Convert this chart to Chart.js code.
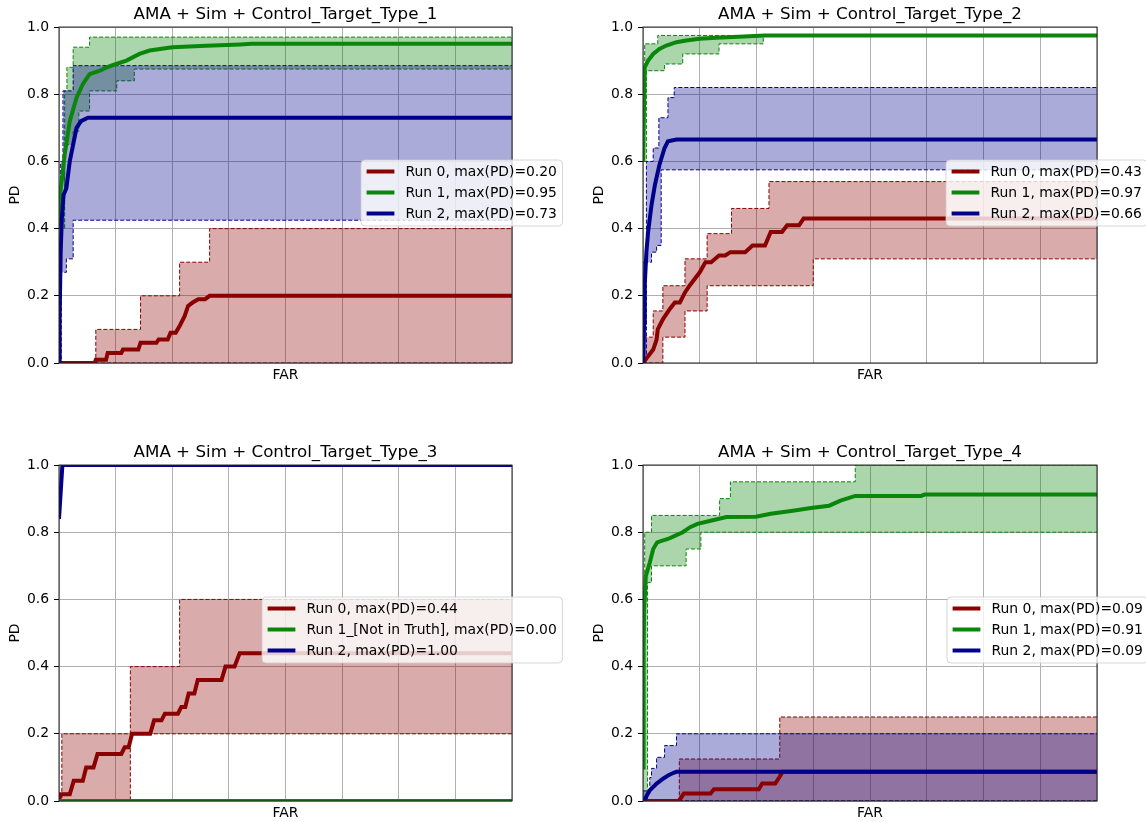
<!DOCTYPE html>
<html lang="en">
  <head>
    <meta charset="UTF-8" />
    <title>PD vs FAR</title>
    <script src="https://cdn.jsdelivr.net/npm/chart.js"></script>
    <style>
      body { margin: 0; background: #fff; }
      .wrap { position: relative; width: 1146px; height: 822px; overflow: hidden; }
      canvas { position: absolute; }
    </style>
  </head>
  <body>
    <div class="wrap">
      <canvas id="c1" width="573" height="411" style="left:0;top:0"></canvas>
      <canvas id="c2" width="573" height="411" style="left:573px;top:0"></canvas>
      <canvas id="c3" width="573" height="411" style="left:0;top:411px"></canvas>
      <canvas id="c4" width="573" height="411" style="left:573px;top:411px"></canvas>
    </div>

    <script>
      // ---- data: [FAR (grid units), PD] pairs ----

      // Control_Target_Type_1
      const type1Labels = ["Run 0, max(PD)=0.20", "Run 1, max(PD)=0.95", "Run 2, max(PD)=0.73"];
      const type1Run0 = [[0,0],[0.63,0],[0.65,0.01],[0.83,0.01],[0.86,0.03],[1.10,0.03],[1.13,0.04],[1.40,0.04],[1.44,0.06],[1.72,0.06],[1.76,0.07],[1.92,0.07],[1.97,0.09],[2.06,0.09],[2.13,0.11],[2.22,0.14],[2.28,0.17],[2.36,0.18],[2.46,0.19],[2.58,0.19],[2.66,0.20],[8,0.20]];
      const type1Run0Hi = [[0,0],[0.65,0.10],[1.44,0.20],[2.13,0.30],[2.66,0.40],[8,0.40]];
      const type1Run0Lo = [[0,0],[8,0]];
      const type1Run1 = [[0,0.40],[0.02,0.50],[0.06,0.56],[0.10,0.62],[0.19,0.72],[0.31,0.79],[0.42,0.83],[0.54,0.86],[0.72,0.87],[0.84,0.88],[1.01,0.89],[1.19,0.90],[1.42,0.92],[1.60,0.93],[2.00,0.94],[2.60,0.944],[3.20,0.948],[3.40,0.95],[8,0.95]];
      const type1Run1Hi = [[0,0.50],[0.10,0.81],[0.14,0.88],[0.25,0.94],[0.54,0.97],[8,0.97]];
      const type1Run1Lo = [[0,0.40],[0.10,0.65],[0.25,0.69],[0.35,0.75],[0.54,0.81],[1.02,0.84],[1.33,0.875],[8,0.875]];
      const type1Run2 = [[0,0],[0.01,0.13],[0.03,0.33],[0.05,0.43],[0.08,0.50],[0.13,0.52],[0.19,0.60],[0.25,0.65],[0.31,0.70],[0.39,0.72],[0.51,0.73],[8,0.73]];
      const type1Run2Hi = [[0,0.30],[0.03,0.60],[0.07,0.81],[0.25,0.885],[8,0.885]];
      const type1Run2Lo = [[0,0],[0.04,0.27],[0.13,0.31],[0.25,0.425],[8,0.425]];

      // Control_Target_Type_2
      const type2Labels = ["Run 0, max(PD)=0.43", "Run 1, max(PD)=0.97", "Run 2, max(PD)=0.66"];
      const type2Run0 = [[0,0],[0.09,0.02],[0.18,0.04],[0.24,0.07],[0.26,0.10],[0.35,0.13],[0.47,0.16],[0.56,0.18],[0.65,0.18],[0.74,0.21],[0.82,0.23],[0.91,0.25],[1.00,0.27],[1.10,0.30],[1.20,0.30],[1.34,0.32],[1.45,0.32],[1.54,0.33],[1.80,0.33],[1.93,0.35],[2.15,0.35],[2.25,0.39],[2.45,0.39],[2.54,0.41],[2.75,0.41],[2.83,0.43],[8,0.43]];
      const type2Run0Hi = [[0,0.077],[0.18,0.155],[0.35,0.23],[0.74,0.31],[1.13,0.385],[1.56,0.46],[2.22,0.54],[8,0.54]];
      const type2Run0Lo = [[0,0],[0.35,0.077],[0.74,0.155],[1.13,0.23],[3.00,0.31],[8,0.31]];
      const type2Run1 = [[0,0.60],[0.03,0.88],[0.09,0.90],[0.18,0.92],[0.29,0.935],[0.41,0.945],[0.59,0.955],[0.76,0.96],[1.00,0.965],[1.29,0.968],[1.59,0.97],[2.15,0.975],[8,0.975]];
      const type2Run1Hi = [[0,0.85],[0.03,0.95],[0.26,0.975],[8,0.975]];
      const type2Run1Lo = [[0,0.60],[0.06,0.87],[0.38,0.89],[0.70,0.92],[1.34,0.95],[2.12,0.975],[8,0.975]];
      const type2Run2 = [[0,0],[0.02,0.12],[0.03,0.23],[0.06,0.33],[0.09,0.39],[0.15,0.47],[0.21,0.53],[0.29,0.59],[0.38,0.64],[0.44,0.66],[0.59,0.665],[8,0.665]];
      const type2Run2Hi = [[0,0.30],[0.06,0.60],[0.18,0.64],[0.28,0.73],[0.44,0.79],[0.55,0.82],[8,0.82]];
      const type2Run2Lo = [[0,0],[0.06,0.30],[0.15,0.33],[0.24,0.35],[0.32,0.575],[8,0.575]];

      // Control_Target_Type_3
      const type3Labels = ["Run 0, max(PD)=0.44", "Run 1_[Not in Truth], max(PD)=0.00", "Run 2, max(PD)=1.00"];
      const type3Run0 = [[0,0],[0.03,0.02],[0.19,0.02],[0.26,0.06],[0.42,0.06],[0.48,0.10],[0.61,0.10],[0.68,0.14],[1.10,0.14],[1.16,0.16],[1.23,0.16],[1.29,0.20],[1.61,0.20],[1.68,0.24],[1.81,0.24],[1.87,0.26],[2.10,0.26],[2.16,0.28],[2.23,0.28],[2.29,0.32],[2.39,0.32],[2.45,0.36],[2.87,0.36],[2.94,0.40],[3.10,0.40],[3.19,0.44],[8,0.44]];
      const type3Run0Hi = [[0,0],[0.05,0.20],[1.26,0.40],[2.13,0.60],[8,0.60]];
      const type3Run0Lo = [[0,0],[1.26,0.20],[8,0.20]];
      const type3Run1 = [[0,0],[8,0]];
      const type3Run2 = [[0,0.84],[0.06,1.0],[8,1.0]];

      // Control_Target_Type_4
      const type4Labels = ["Run 0, max(PD)=0.09", "Run 1, max(PD)=0.91", "Run 2, max(PD)=0.09"];
      const type4Run0 = [[0,0],[0.63,0],[0.72,0.022],[1.19,0.022],[1.25,0.035],[2.04,0.035],[2.10,0.052],[2.33,0.052],[2.40,0.07],[2.46,0.087],[8,0.087]];
      const type4Run0Hi = [[0,0],[0.64,0.125],[2.41,0.25],[8,0.25]];
      const type4Run0Lo = [[0,0],[8,0]];
      const type4Run1 = [[0,0.10],[0.01,0.45],[0.02,0.57],[0.05,0.67],[0.12,0.71],[0.18,0.75],[0.25,0.77],[0.34,0.775],[0.44,0.78],[0.57,0.79],[0.70,0.80],[0.83,0.815],[0.96,0.825],[1.21,0.835],[1.47,0.845],[1.99,0.846],[2.25,0.855],[2.64,0.864],[2.96,0.872],[3.28,0.879],[3.48,0.894],[3.74,0.908],[4.90,0.908],[4.96,0.912],[8,0.912]];
      const type4Run1Hi = [[0,0.20],[0.03,0.80],[0.15,0.85],[1.35,0.90],[1.54,0.95],[3.74,1.0],[8,1.0]];
      const type4Run1Lo = [[0,0],[0.08,0.65],[0.15,0.70],[0.76,0.75],[1.02,0.80],[8,0.80]];
      const type4Run2 = [[0,0],[0.03,0.005],[0.12,0.032],[0.24,0.052],[0.36,0.067],[0.45,0.077],[0.54,0.084],[0.59,0.087],[8,0.087]];
      const type4Run2Hi = [[0,0.03],[0.12,0.07],[0.15,0.097],[0.24,0.13],[0.38,0.165],[0.59,0.20],[8,0.20]];
      const type4Run2Lo = [[0,0],[8,0]];

      const yTicks = [0, 0.2, 0.4, 0.6, 0.8, 1.0];

      // ---- styling ----
      const RED = "#8b0000", GREEN = "#0a870a", BLUE = "#00008b";
      const RED_FILL = "rgba(139,0,0,0.33)", GREEN_FILL = "rgba(0,128,0,0.33)", BLUE_FILL = "rgba(0,0,139,0.33)";
      const FONT = "'DejaVu Sans', sans-serif";

      Chart.defaults.font.family = FONT;
      Chart.defaults.color = "#000";

      const pts = (arr) => arr.map(([x, y]) => ({ x, y }));

      // lower "order" is drawn on top: all lines sit above all shaded bands
      function lineSet(label, data, color, run) {
        return {
          label, data: pts(data), borderColor: color, borderWidth: 4,
          pointRadius: 0, fill: false, tension: 0, order: 10 - run,
        };
      }

      function bandSets(hi, lo, color, fillColor, run) {
        const common = { borderColor: color, borderWidth: 1, borderDash: [4, 2], pointRadius: 0, stepped: true, order: 20 - run };
        return [
          Object.assign({ data: pts(hi), backgroundColor: fillColor, fill: "+1" }, common),
          Object.assign({ data: pts(lo), fill: false }, common),
        ];
      }

      // legend box drawn inside/over the axes like the original
      const boxLegend = {
        id: "boxLegend",
        afterDraw(chart, args, opts) {
          const ctx = chart.ctx;
          const items = chart.data.datasets.filter((d) => d.label);
          const fs = 13.9, rowH = 21, pad = 5.6, hl = 27.8, gap = 11.1;
          ctx.save();
          ctx.font = fs + "px " + FONT;
          const tw = Math.max(...items.map((d) => ctx.measureText(d.label).width));
          const w = pad * 2 + hl + gap + tw;
          const h = 11.5 + rowH * (items.length - 1) + 12.5;
          const x = opts.x, y = opts.y;
          ctx.beginPath();
          ctx.roundRect(x, y, w, h, 4);
          ctx.fillStyle = "rgba(255,255,255,0.8)";
          ctx.fill();
          ctx.strokeStyle = "rgba(204,204,204,0.8)";
          ctx.lineWidth = 1;
          ctx.stroke();
          ctx.textBaseline = "middle";
          ctx.fillStyle = "#000";
          items.forEach((d, i) => {
            const cy = y + 11.5 + i * rowH;
            ctx.beginPath();
            ctx.moveTo(x + pad, cy);
            ctx.lineTo(x + pad + hl, cy);
            ctx.strokeStyle = d.borderColor;
            ctx.lineWidth = 4;
            ctx.stroke();
            ctx.fillText(d.label, x + pad + hl + gap, cy + 1);
          });
          ctx.restore();
        },
      };

      // four spines around the plot area
      const spines = {
        id: "spines",
        afterDatasetsDraw(chart) {
          const { ctx, chartArea: a } = chart;
          ctx.save();
          ctx.strokeStyle = "#222";
          ctx.lineWidth = 1;
          ctx.strokeRect(a.left, a.top, a.right - a.left, a.bottom - a.top);
          ctx.restore();
        },
      };

      function makeChart(id, title, padding, legendPos, datasets) {
        return new Chart(document.getElementById(id), {
          type: "line",
          data: { datasets },
          options: {
            responsive: false,
            animation: false,
            devicePixelRatio: 1,
            layout: { padding },
            plugins: {
              legend: { display: false },
              tooltip: { enabled: false },
              title: {
                display: true, text: title, fullSize: false,
                font: { size: 16.7, weight: "normal" }, color: "#000",
                padding: { top: 5, bottom: 2 },
              },
              boxLegend: legendPos,
            },
            scales: {
              x: {
                type: "linear", min: 0, max: 8,
                ticks: { display: false, stepSize: 1 },
                grid: { color: "#b0b0b0", lineWidth: 1, drawTicks: false },
                border: { display: false },
                title: { display: true, text: "FAR", font: { size: 13.9 }, padding: { top: 0, bottom: 0.7 } },
                afterFit: (s) => { s.height = 21; },
              },
              y: {
                min: 0, max: 1,
                afterBuildTicks: (s) => { s.ticks = yTicks.map((v) => ({ value: v })); },
                ticks: { font: { size: 13.9 }, padding: 5, callback: (v) => v.toFixed(1) },
                grid: { color: "#b0b0b0", lineWidth: 1, tickColor: "#000", tickLength: 5, tickWidth: 1 },
                border: { display: false },
                title: { display: true, text: "PD", font: { size: 13.9 }, padding: { top: 6.7, bottom: 0 } },
                afterFit: (s) => { s.width = 59; },
              },
            },
          },
          plugins: [spines, boxLegend],
        });
      }

      makeChart("c1", "AMA + Sim + Control_Target_Type_1",
        { left: 0, right: 61, top: 0, bottom: 27 }, { x: 361, y: 160 }, [
          lineSet(type1Labels[0], type1Run0, RED, 0),
          ...bandSets(type1Run0Hi, type1Run0Lo, RED, RED_FILL, 0),
          lineSet(type1Labels[1], type1Run1, GREEN, 1),
          ...bandSets(type1Run1Hi, type1Run1Lo, GREEN, GREEN_FILL, 1),
          lineSet(type1Labels[2], type1Run2, BLUE, 2),
          ...bandSets(type1Run2Hi, type1Run2Lo, BLUE, BLUE_FILL, 2),
        ]);

      makeChart("c2", "AMA + Sim + Control_Target_Type_2",
        { left: 11, right: 49, top: 0, bottom: 27 }, { x: 373, y: 160 }, [
          lineSet(type2Labels[0], type2Run0, RED, 0),
          ...bandSets(type2Run0Hi, type2Run0Lo, RED, RED_FILL, 0),
          lineSet(type2Labels[1], type2Run1, GREEN, 1),
          ...bandSets(type2Run1Hi, type2Run1Lo, GREEN, GREEN_FILL, 1),
          lineSet(type2Labels[2], type2Run2, BLUE, 2),
          ...bandSets(type2Run2Hi, type2Run2Lo, BLUE, BLUE_FILL, 2),
        ]);

      makeChart("c3", "AMA + Sim + Control_Target_Type_3",
        { left: 0, right: 61, top: 27, bottom: 0 }, { x: 262, y: 186 }, [
          lineSet(type3Labels[0], type3Run0, RED, 0),
          ...bandSets(type3Run0Hi, type3Run0Lo, RED, RED_FILL, 0),
          lineSet(type3Labels[1], type3Run1, GREEN, 1),
          lineSet(type3Labels[2], type3Run2, BLUE, 2),
        ]);

      makeChart("c4", "AMA + Sim + Control_Target_Type_4",
        { left: 11, right: 49, top: 27, bottom: 0 }, { x: 374, y: 186 }, [
          lineSet(type4Labels[0], type4Run0, RED, 0),
          ...bandSets(type4Run0Hi, type4Run0Lo, RED, RED_FILL, 0),
          lineSet(type4Labels[1], type4Run1, GREEN, 1),
          ...bandSets(type4Run1Hi, type4Run1Lo, GREEN, GREEN_FILL, 1),
          lineSet(type4Labels[2], type4Run2, BLUE, 2),
          ...bandSets(type4Run2Hi, type4Run2Lo, BLUE, BLUE_FILL, 2),
        ]);
    </script>
  </body>
</html>
